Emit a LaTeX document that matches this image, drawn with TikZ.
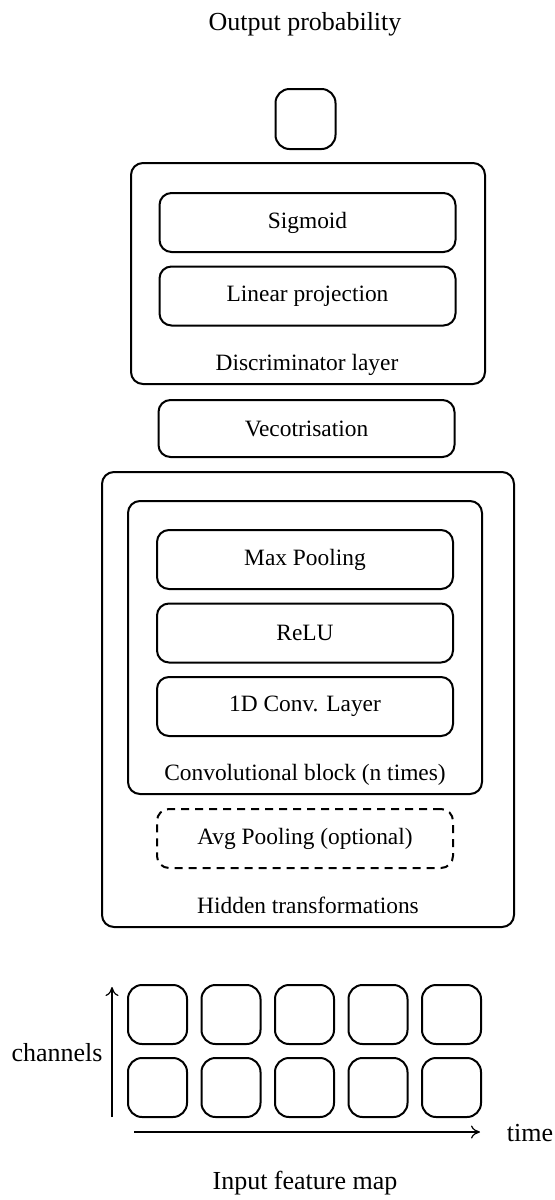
\documentclass[tikz,border=0pt]{standalone}
\usepackage{fontspec}
\setmainfont{Liberation Serif}
\usepackage{tikz}
\usetikzlibrary{arrows.meta,
                positioning}
\newcommand{\titlefont}{\fontsize{13}{15}\selectfont}
\newcommand{\boxfont}{\fontsize{11.7}{14}\selectfont}
\tikzset{
  layer/.style={draw, rounded corners=6pt, line width=1pt, minimum width=148pt, minimum height=29.5pt, font=\boxfont},
  frame/.style={draw, rounded corners=6pt, line width=1pt},
  cell/.style={draw, rounded corners=7pt, line width=1pt, minimum size=29.5pt, inner sep=0pt},
  caption/.style={font=\boxfont},
  title/.style={font=\titlefont},
  axis/.style={-{To[length=4.5pt, width=6.5pt]}, line width=0.6pt}
}
\begin{document}
\begin{tikzpicture}[x=0.5pt, y=-0.5pt]
  \useasboundingbox (0,0) rectangle (554,1200);

  % output
  \node[title] (outtitle) at (305,24) {Output probability};
  \node[cell, minimum size=30pt] (out) at (305.5,119) {};

  % discriminator
  \node[frame, minimum width=177pt, minimum height=110.5pt] (disc) at (308,273.5) {};
  \node[layer] (sigmoid) at (307.5,222.5) {Sigmoid};
  \node[layer] (linear) at (307.5,296) {Linear projection};
  \node[caption] (disclabel) at (307,365) {Discriminator layer};

  \node[layer, minimum height=28.5pt] (vect) at (306.5,428.5) {Vecotrisation};

  % hidden transformations
  \node[frame, minimum width=206pt, minimum height=227.5pt] (hidden) at (308,699.5) {};
  \node[frame, minimum width=177pt, minimum height=146.5pt] (conv) at (305,647.5) {};
  \node[layer] (maxpool) at (305,559.5) {Max Pooling};
  \node[layer] (relu) at (305,633) {ReLU};
  \node[layer] (conv1d) at (305,706.5) {1D Conv. Layer};
  \node[caption] (convlabel) at (305,775) {Convolutional block (n times)};
  \node[layer, dash pattern=on 4pt off 3pt] (avgpool) at (305,838.5) {Avg Pooling (optional)};
  \node[caption] (hiddenlabel) at (308,905) {Hidden transformations};

  % input feature map
  \foreach \i in {0,...,4} {
    \node[cell] (top\i) at ({157.5+73.5*\i},1014.5) {};
    \node[cell] (bot\i) at ({157.5+73.5*\i},1087.5) {};
  }
  \coordinate (chanlow) at (112,1117);
  \coordinate (chanhigh) at (112,987);
  \coordinate (timelow) at (134,1132);
  \coordinate (timehigh) at (480,1132);
  \draw[axis] (chanlow) -- (chanhigh);
  \draw[axis] (timelow) -- (timehigh);
  \node[title] (chanlabel) at (57,1053) {channels};
  \node[title] (timelabel) at (530,1133) {time};
  \node[title] (intitle) at (305,1183) {Input feature map};
\end{tikzpicture}
\end{document}
